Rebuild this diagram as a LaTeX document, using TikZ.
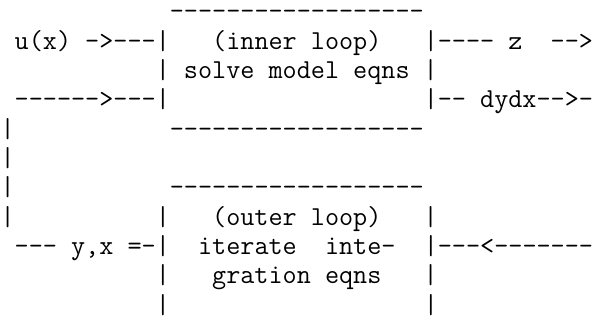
\documentclass[tikz,border=0pt]{standalone}
\usepackage{fontspec}
\begin{document}
\begin{tikzpicture}[x=1pt,y=1pt,
  asciiline/.style={anchor=base west,inner sep=0pt,outer sep=0pt,
    font=\ttfamily\fontsize{27.39}{29}\selectfont,text=black}]
\useasboundingbox (0,0) rectangle (605,335);
\node[asciiline] (l0)  at (0.6,{335-20-0*29.33}) {~~~~~~~~~~~~------------------};
\node[asciiline] (l1)  at (0.6,{335-20-1*29.33}) {~u(x)~->---|~~~(inner~loop)~~~|----~z~~-->};
\node[asciiline] (l2)  at (0.6,{335-20-2*29.33}) {~~~~~~~~~~~|~solve~model~eqns~|};
\node[asciiline] (l3)  at (0.6,{335-20-3*29.33}) {~------>---|~~~~~~~~~~~~~~~~~~|--~dydx-->-};
\node[asciiline] (l4)  at (0.6,{335-20-4*29.33}) {|~~~~~~~~~~~------------------};
\node[asciiline] (l5)  at (0.6,{335-20-5*29.33}) {|};
\node[asciiline] (l6)  at (0.6,{335-20-6*29.33}) {|~~~~~~~~~~~------------------};
\node[asciiline] (l7)  at (0.6,{335-20-7*29.33}) {|~~~~~~~~~~|~~~(outer~loop)~~~|};
\node[asciiline] (l8)  at (0.6,{335-20-8*29.33}) {~---~y,x~=-|~~iterate~~inte-~~|---<-------};
\node[asciiline] (l9)  at (0.6,{335-20-9*29.33}) {~~~~~~~~~~~|~~~gration~eqns~~~|};
\node[asciiline] (l10) at (0.6,{335-20-10*29.33}) {~~~~~~~~~~~|~~~~~~~~~~~~~~~~~~|};
\end{tikzpicture}
\end{document}
